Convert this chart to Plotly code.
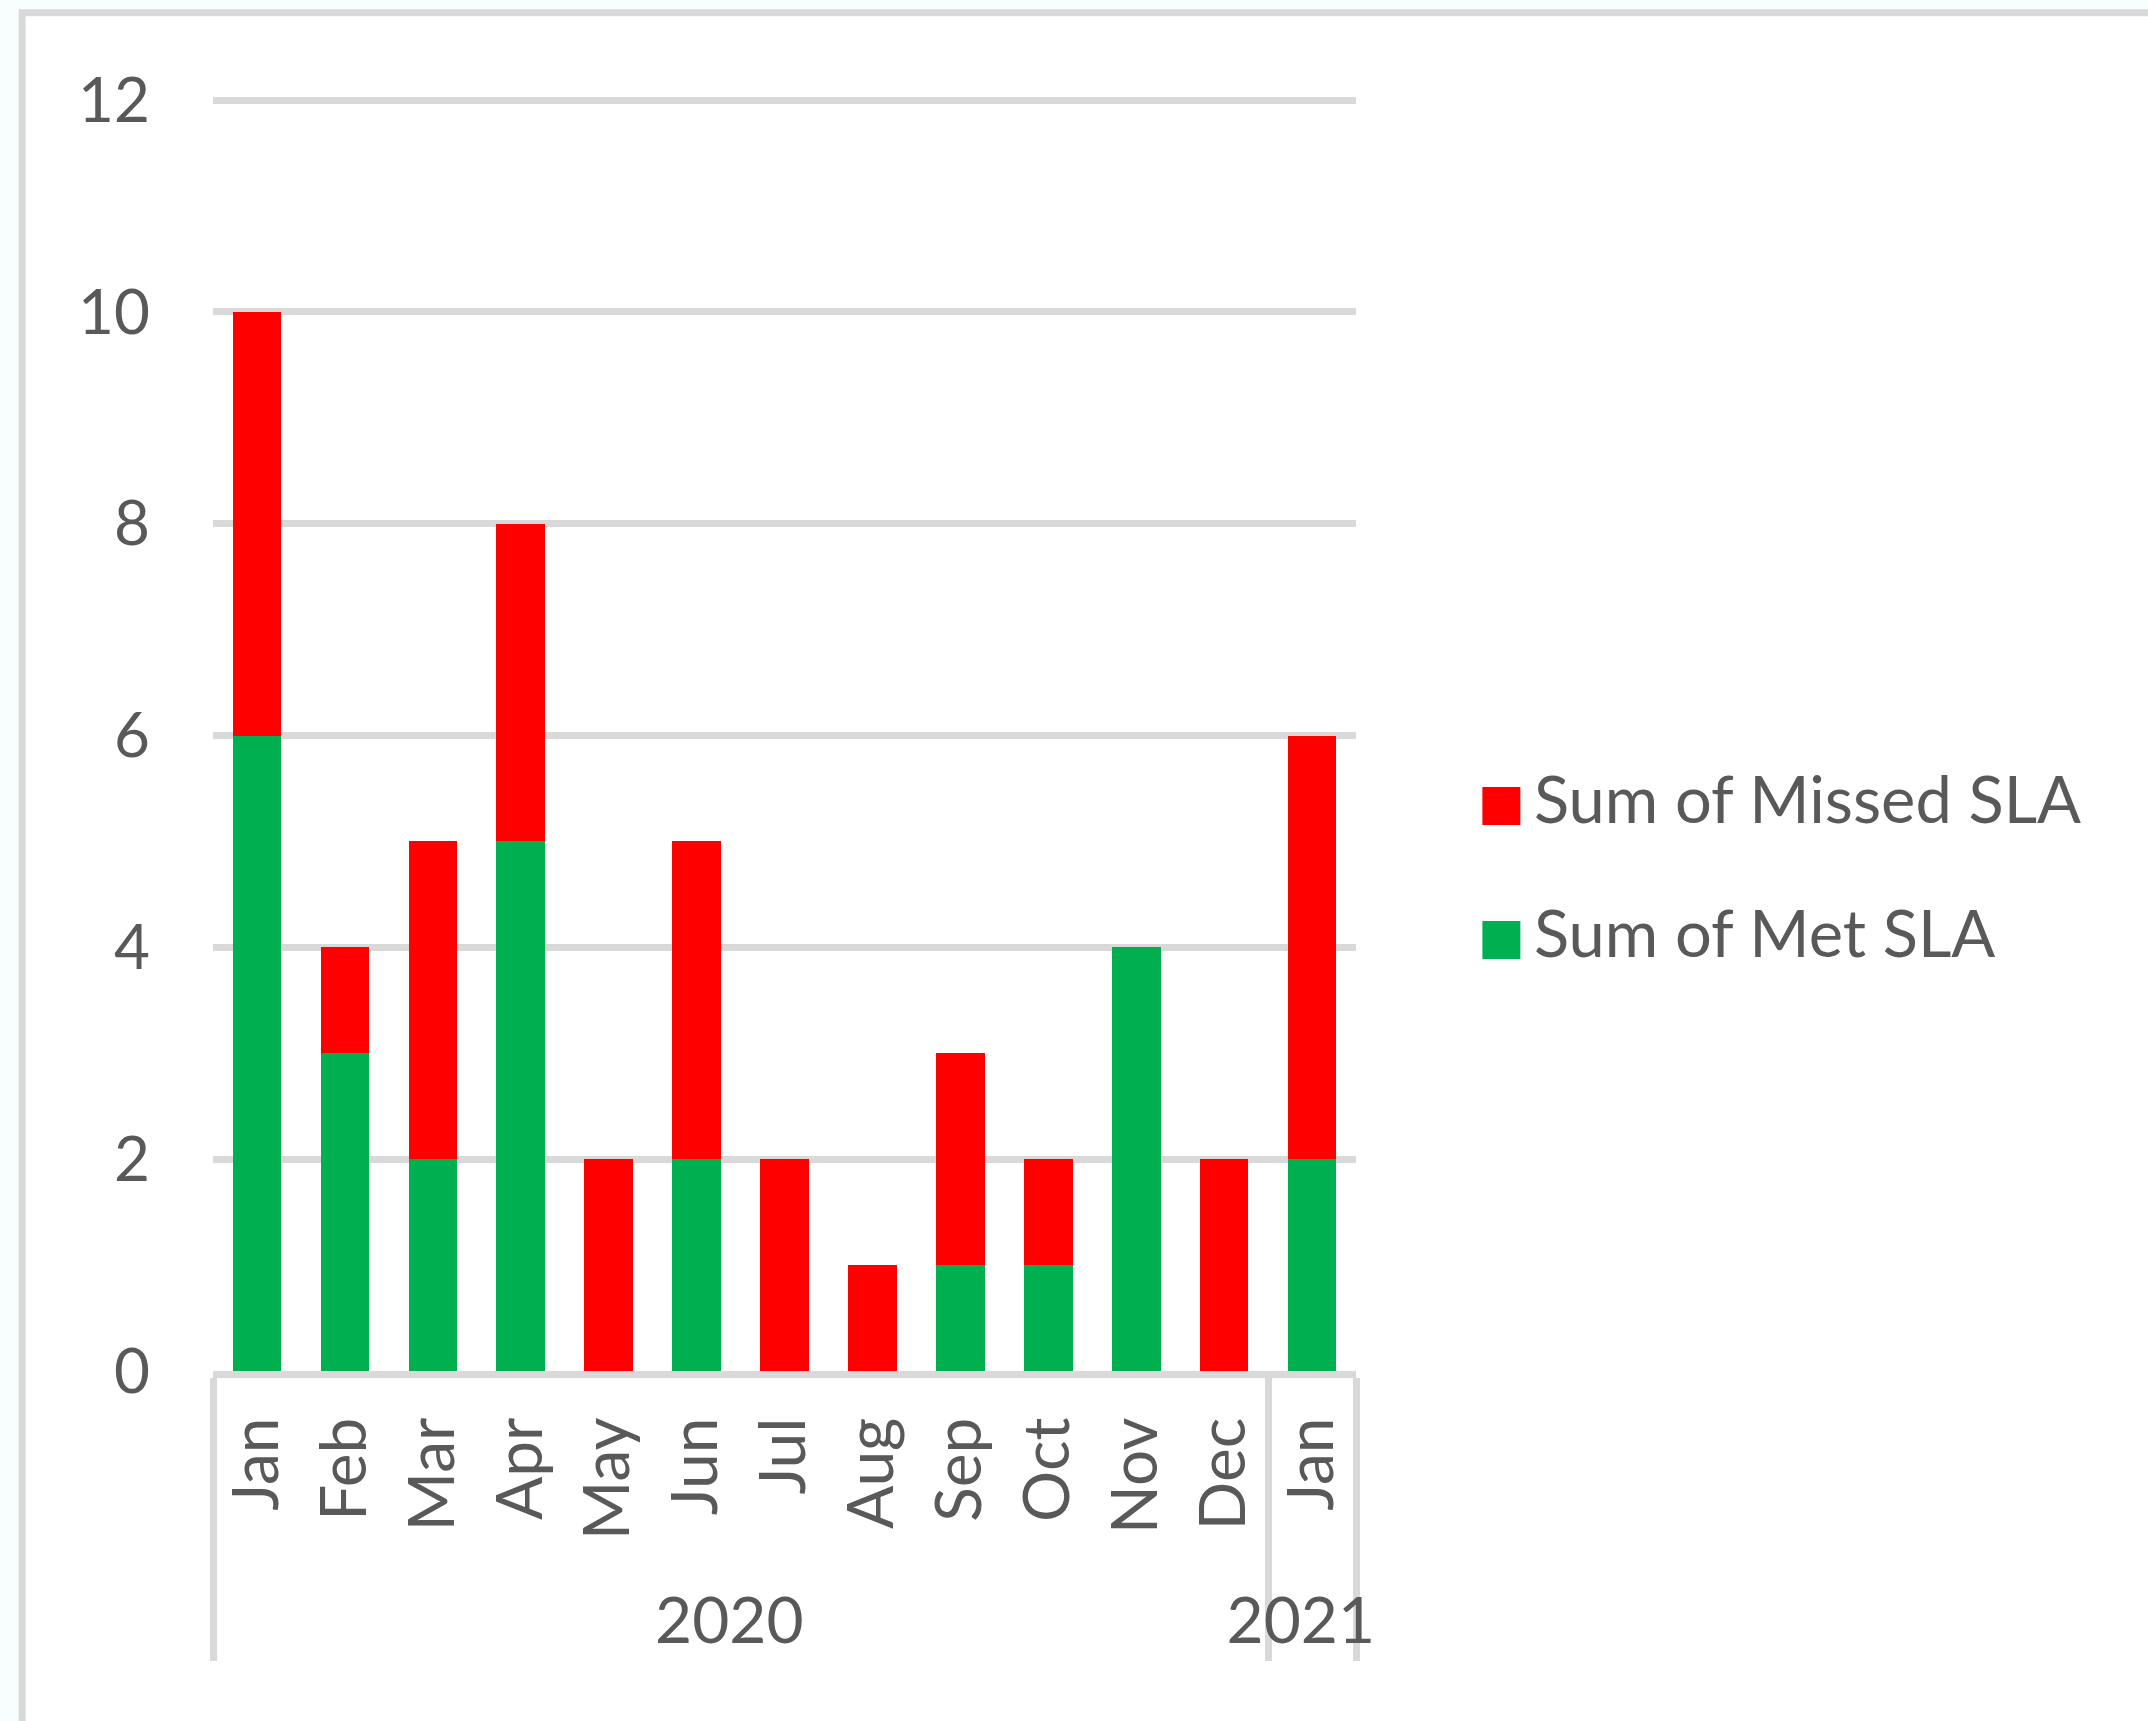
import plotly.graph_objects as go

# SLA counts per month, grouped by year
years = ["2020"] * 12 + ["2021"]
months = ["Jan", "Feb", "Mar", "Apr", "May", "Jun", "Jul", "Aug", "Sep", "Oct", "Nov", "Dec", "Jan"]
met_sla = [6, 3, 2, 5, 0, 2, 0, 0, 1, 1, 4, 0, 2]
missed_sla = [4, 1, 3, 3, 2, 3, 2, 1, 2, 1, 0, 2, 4]

series_names = ["Sum of Missed SLA", "Sum of Met SLA"]
series_colors = ["#ff0000", "#00b050"]

y_ticks = [0, 2, 4, 6, 8, 10, 12]

W, H = 2148, 1721
Y_TOP = 12.03                      # a hair above 12 so the top gridline is drawn
L, R, B = 212.5, 1356.5, 1371
UNIT = (B - 100) / 12.0
T = B - UNIT * Y_TOP
TEXT = "#595959"
GRID = "#d9d9d9"
FONT = "Lato"

def px(x):
    return (x - L) / (R - L)

def py(y):
    return (B - y) / (B - T)

fig = go.Figure()
fig.add_trace(go.Bar(x=[years, months], y=met_sla, name=series_names[1],
                     marker=dict(color=series_colors[1], line=dict(width=0))))
fig.add_trace(go.Bar(x=[years, months], y=missed_sla, name=series_names[0],
                     marker=dict(color=series_colors[0], line=dict(width=0))))

shapes = [
    # chart-area border
    dict(type="rect", xref="paper", yref="paper",
         x0=px(21.5), x1=px(2400), y0=py(12.5), y1=py(2000),
         line=dict(color=GRID, width=7), fillcolor="white", layer="below"),
]
annotations = []

# hand-built legend: missed on top, met below
legend_rows = [(series_names[0], series_colors[0], 806), (series_names[1], series_colors[1], 940)]
for name, color, cy in legend_rows:
    shapes.append(dict(type="rect", xref="paper", yref="paper",
                       x0=px(1483), x1=px(1521), y0=py(cy - 19), y1=py(cy + 19),
                       line=dict(width=0), fillcolor=color))
    annotations.append(dict(xref="paper", yref="paper", x=px(1533), y=py(cy - 8),
                            xanchor="left", yanchor="middle", showarrow=False,
                            text=name, font=dict(family=FONT, size=65, color=TEXT)))

fig.update_layout(
    width=W, height=H,
    margin=dict(l=L, r=W - R, t=T, b=H - B, pad=0),
    paper_bgcolor="#f8fefe",
    plot_bgcolor="white",
    barmode="stack",
    bargap=0.447,
    showlegend=False,
    shapes=shapes,
    annotations=annotations,
    font=dict(family=FONT, color=TEXT, size=62),
)

fig.update_xaxes(
    type="multicategory",
    showline=True, linecolor=GRID, linewidth=7,
    showdividers=True, dividercolor=GRID, dividerwidth=7,
    tickangle=-90,
    ticklabelstandoff=14,
    tickfont=dict(family=FONT, size=64, color=TEXT),
    showgrid=False, ticks="",
)

fig.update_yaxes(
    range=[0, Y_TOP], tickvals=y_ticks,
    showgrid=True, gridcolor=GRID, gridwidth=6.5,
    zeroline=False, showline=False, ticks="",
    ticklabelstandoff=62,
    tickfont=dict(family=FONT, size=62, color=TEXT),
)

fig.write_html("out.html")
